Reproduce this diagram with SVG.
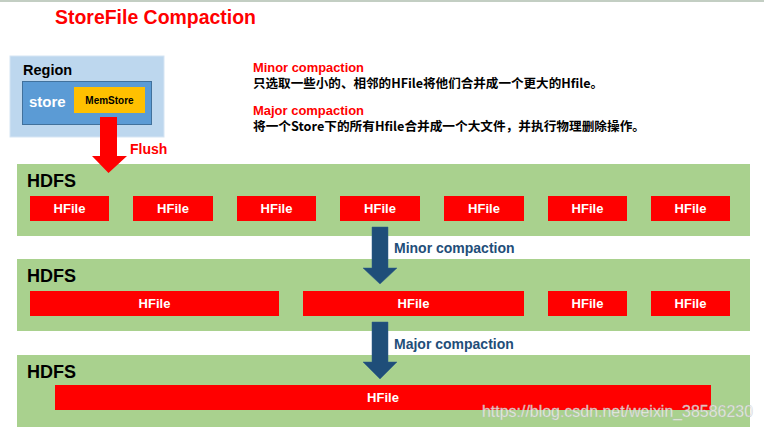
<svg xmlns="http://www.w3.org/2000/svg" width="764" height="431" viewBox="0 0 764 431">
<style>
text{font-family:"Liberation Sans",Arial,"Noto Sans CJK SC",sans-serif;font-weight:bold}
.band{fill:#A9D18E}
.hf{fill:#FF0000}
.hft{fill:#FFFFFF;font-size:13px;text-anchor:middle}
.hdfs{fill:#000;font-size:18px}
.cn{fill:#000;font-size:12.5px;font-family:"Noto Sans CJK SC","Liberation Sans",sans-serif}
.red{fill:#FF0000}
.blue{fill:#1F4E79}
</style>
<rect x="0" y="0" width="764" height="2" fill="#C3CEC3"/>
<text x="55" y="24" font-size="19.5" class="red" textLength="201" lengthAdjust="spacingAndGlyphs">StoreFile Compaction</text>

<g id="region">
<rect x="10" y="56" width="154" height="81" fill="#BDD7EE" stroke="#D6E5F4" stroke-width="1"/>
<text x="23" y="75" font-size="14.5" fill="#000">Region</text>
</g>
<g id="store">
<rect x="22.5" y="81.5" width="129" height="43" fill="#5B9BD5" stroke="#41719C" stroke-width="1"/>
<text x="29" y="107" font-size="15" fill="#FFFFFF">store</text>
</g>
<g id="memstore">
<rect x="74" y="87" width="71" height="26" fill="#FFC000"/>
<text x="109.5" y="104" font-size="10" fill="#000" text-anchor="middle">MemStore</text>
</g>

<g id="notes">
<text x="253" y="72" font-size="12.5" class="red" textLength="111" lengthAdjust="spacingAndGlyphs">Minor compaction</text>
<text x="253" y="88" class="cn" textLength="350" lengthAdjust="spacingAndGlyphs">只选取一些小的、相邻的HFile将他们合并成一个更大的Hfile。</text>
<text x="253" y="115" font-size="12.5" class="red" textLength="111" lengthAdjust="spacingAndGlyphs">Major compaction</text>
<text x="253" y="131" class="cn" textLength="392" lengthAdjust="spacingAndGlyphs">将一个Store下的所有Hfile合并成一个大文件，并执行物理删除操作。</text>
</g>

<g id="hdfs1">
<rect class="band" x="17" y="164" width="733" height="72"/>
<text class="hdfs" x="27" y="187">HDFS</text>
<rect class="hf" x="30" y="196" width="79" height="25"/><text class="hft" x="69.5" y="213">HFile</text>
<rect class="hf" x="133" y="196" width="80" height="25"/><text class="hft" x="173" y="213">HFile</text>
<rect class="hf" x="237" y="196" width="79" height="25"/><text class="hft" x="276.5" y="213">HFile</text>
<rect class="hf" x="340" y="196" width="80" height="25"/><text class="hft" x="380" y="213">HFile</text>
<rect class="hf" x="444" y="196" width="80" height="25"/><text class="hft" x="484" y="213">HFile</text>
<rect class="hf" x="548" y="196" width="79" height="25"/><text class="hft" x="587.5" y="213">HFile</text>
<rect class="hf" x="651" y="196" width="79" height="25"/><text class="hft" x="690.5" y="213">HFile</text>
</g>

<g id="hdfs2">
<rect class="band" x="17" y="259" width="733" height="72"/>
<text class="hdfs" x="27" y="282">HDFS</text>
<rect class="hf" x="30" y="291" width="249" height="25"/><text class="hft" x="154.5" y="308">HFile</text>
<rect class="hf" x="303" y="291" width="221" height="25"/><text class="hft" x="413.5" y="308">HFile</text>
<rect class="hf" x="548" y="291" width="79" height="25"/><text class="hft" x="587.5" y="308">HFile</text>
<rect class="hf" x="651" y="291" width="79" height="25"/><text class="hft" x="690.5" y="308">HFile</text>
</g>

<g id="hdfs3">
<rect class="band" x="17" y="355" width="733" height="72"/>
<text class="hdfs" x="27" y="378">HDFS</text>
<rect class="hf" x="55" y="385" width="656" height="25"/><text class="hft" x="383" y="402">HFile</text>
</g>

<g id="connectors">
<polygon points="100,117 117,117 117,156 127,156 108.5,173 92,156 100,156" fill="#FF0000"/>
<text x="130" y="154" font-size="14" class="red">Flush</text>
<polygon points="372,227 388,227 388,268 397,268 380,284 363,268 372,268" fill="#1F4E79" stroke="#2E5C8A" stroke-width="0.5"/>
<text x="394" y="253" font-size="14" class="blue">Minor compaction</text>
<polygon points="372,322 388,322 388,362 397,362 380,379 363,362 372,362" fill="#1F4E79" stroke="#2E5C8A" stroke-width="0.5"/>
<text x="394" y="349" font-size="14" class="blue">Major compaction</text>
</g>

<text x="482" y="417" font-size="17" textLength="271" lengthAdjust="spacingAndGlyphs" fill="#FFFFFF" fill-opacity="0.75" stroke="#BBBBBB" stroke-width="0.4" style="font-weight:normal">https://blog.csdn.net/weixin_38586230</text>
</svg>
